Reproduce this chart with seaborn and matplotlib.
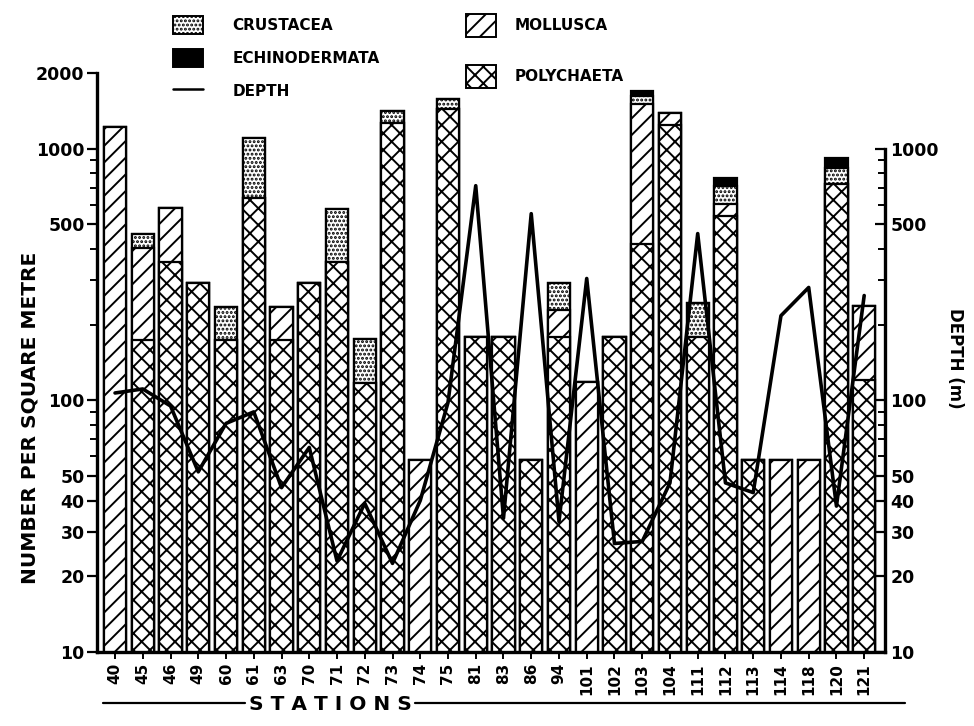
import numpy as np
import pandas as pd
import matplotlib
matplotlib.use("Agg")
import matplotlib.pyplot as plt
import matplotlib.patches as mpatches
import matplotlib.lines as mlines
import matplotlib.ticker as mticker
import seaborn as sns

# stations along the x axis
stations = ["40", "45", "46", "49", "60", "61", "63", "70", "71", "72",
            "73", "74", "75", "81", "83", "86", "94", "101", "102", "103",
            "104", "111", "112", "113", "114", "118", "120", "121"]

# number per square metre, stacked from the bottom up
polychaeta = [0, 173, 356, 294, 173, 640, 173, 294, 356, 117,
              1268, 0, 1440, 178, 178, 58, 178, 0, 178, 420,
              1245, 178, 542, 58, 0, 0, 726, 120]
mollusca = [1220, 232, 228, 0, 0, 0, 61, 0, 0, 0,
            0, 58, 0, 0, 0, 0, 50, 118, 0, 1089,
            145, 0, 63, 0, 58, 58, 0, 118]
crustacea = [0, 55, 0, 0, 61, 467, 0, 0, 222, 58,
             148, 0, 137, 0, 0, 0, 66, 0, 0, 113,
             0, 65, 108, 0, 0, 0, 115, 0]
echinodermata = [0, 0, 0, 0, 0, 0, 0, 0, 0, 0,
                 0, 0, 0, 0, 0, 0, 0, 0, 0, 76,
                 0, 0, 54, 0, 0, 0, 79, 0]

# depth (m) at each station
depth = [107, 111, 95, 52, 81, 90, 45, 65, 23, 39,
         22.5, 40, 98, 713, 34, 552, 33, 305, 27, 27.5,
         47, 460, 47, 43, 217, 281, 38, 261]

left_ticks = [10, 20, 30, 40, 50, 100, 500, 1000, 2000]
right_ticks = [10, 20, 30, 40, 50, 100, 500, 1000]

sns.set_theme(style="ticks")
plt.rcParams["font.family"] = ["DejaVu Sans"]
plt.rcParams["font.weight"] = "bold"
plt.rcParams["text.color"] = "black"
plt.rcParams["axes.labelcolor"] = "black"
plt.rcParams["xtick.color"] = "black"
plt.rcParams["ytick.color"] = "black"
plt.rcParams["hatch.linewidth"] = 1.4
plt.rcParams["hatch.color"] = "black"

df = pd.DataFrame({"station": stations})
df["c1"] = np.array(polychaeta, dtype=float)
df["c2"] = df["c1"] + np.array(mollusca)
df["c3"] = df["c2"] + np.array(crustacea)
df["c4"] = df["c3"] + np.array(echinodermata)

fig = plt.figure(figsize=(9.74, 7.26), dpi=100)
ax = fig.add_axes([97 / 974, 1 - 652 / 726, (885 - 97) / 974, (652 - 73) / 726])

# draw cumulative totals from the top layer down so each one covers the rest
layers = [("c4", "black", None), ("c3", "white", "...."),
          ("c2", "white", "//"), ("c1", "white", "xx")]
for col, fc, hatch in layers:
    sns.barplot(data=df, x="station", y=col, order=stations, color=fc,
                saturation=1, width=0.8, edgecolor="black", linewidth=1.6,
                hatch=hatch, errorbar=None, ax=ax)

ax.set_yscale("log")
ax.set_ylim(10, 2000)
ax.set_xlim(-0.65, 27.75)
ax.set_xlabel("")
ax.set_ylabel("")
ax.set_yticks(left_ticks)
ax.set_yticklabels([str(t) for t in left_ticks])
ax.yaxis.set_minor_locator(mticker.LogLocator(base=10, subs=np.arange(2, 10)))
ax.yaxis.set_minor_formatter(mticker.NullFormatter())
ax.tick_params(axis="y", which="major", length=7, width=1.6, labelsize=12.5, pad=2)
ax.tick_params(axis="y", which="minor", length=5, width=1.4)
ax.tick_params(axis="x", length=5, width=1.4, labelsize=11, rotation=90, pad=3)
for s in ["top", "right"]:
    ax.spines[s].set_visible(False)
for s in ["left", "bottom"]:
    ax.spines[s].set_linewidth(2.4)
    ax.spines[s].set_color("black")

# depth line on the right axis
ax2 = ax.twinx()
sns.lineplot(x=np.arange(len(stations)), y=depth, color="black",
             linewidth=2.6, ax=ax2)
ax2.set_yscale("log")
ax2.set_ylim(10, 2000)
ax2.set_xlim(-0.65, 27.75)
ax2.set_yticks(right_ticks)
ax2.set_yticklabels([str(t) for t in right_ticks])
ax2.yaxis.set_minor_locator(mticker.FixedLocator(
    [v for v in np.outer([10, 100], np.arange(2, 10)).ravel() if v not in right_ticks]))
ax2.yaxis.set_minor_formatter(mticker.NullFormatter())
ax2.tick_params(axis="y", which="major", direction="in", length=7, width=1.6,
                labelsize=12.5, pad=4)
ax2.tick_params(axis="y", which="minor", direction="in", length=5, width=1.4)
for s in ["top", "left", "bottom"]:
    ax2.spines[s].set_visible(False)
ax2.spines["right"].set_bounds(10, 1000)
ax2.spines["right"].set_linewidth(2.4)
ax2.spines["right"].set_color("black")

# axis titles
fig.text(30 / 974, 1 - 418 / 726, "NUMBER PER SQUARE METRE", rotation=90,
         ha="center", va="center", fontsize=14.5)
fig.text(955 / 974, 1 - 358 / 726, "DEPTH (m)", rotation=270,
         ha="center", va="center", fontsize=12)
fig.text(330 / 974, 1 - 710 / 726, "S T A T I O N S", ha="center",
         va="baseline", fontsize=14.5, fontweight="bold")
fig.add_artist(mlines.Line2D([103 / 974, 245 / 974], [1 - 703 / 726] * 2,
                             color="black", linewidth=1.6, transform=fig.transFigure))
fig.add_artist(mlines.Line2D([415 / 974, 905 / 974], [1 - 703 / 726] * 2,
                             color="black", linewidth=1.6, transform=fig.transFigure))

# legend, two columns as in the original
h_crus = mpatches.Patch(facecolor="white", edgecolor="black", hatch="....", linewidth=1.4)
h_echi = mpatches.Patch(facecolor="black", edgecolor="black", linewidth=1.4)
h_dep = mlines.Line2D([], [], color="black", linewidth=1.8)
h_moll = mpatches.Patch(facecolor="white", edgecolor="black", hatch="//", linewidth=1.4)
h_poly = mpatches.Patch(facecolor="white", edgecolor="black", hatch="xx", linewidth=1.4)

leg1 = fig.legend([h_crus, h_echi, h_dep], ["CRUSTACEA", "ECHINODERMATA", "DEPTH"],
                  loc="upper left", bbox_to_anchor=(165 / 974, 1 - 8 / 726),
                  frameon=False, fontsize=11, handlelength=2.0, handleheight=1.5,
                  labelspacing=0.95, handletextpad=1.9, borderpad=0)
leg2 = fig.legend([h_moll, h_poly], ["MOLLUSCA", "POLYCHAETA"],
                  loc="upper left", bbox_to_anchor=(458 / 974, 1 - 6 / 726),
                  frameon=False, fontsize=11, handlelength=2.0, handleheight=2.0,
                  labelspacing=1.8, handletextpad=1.2, borderpad=0)

fig.savefig("out.png", dpi=100)
